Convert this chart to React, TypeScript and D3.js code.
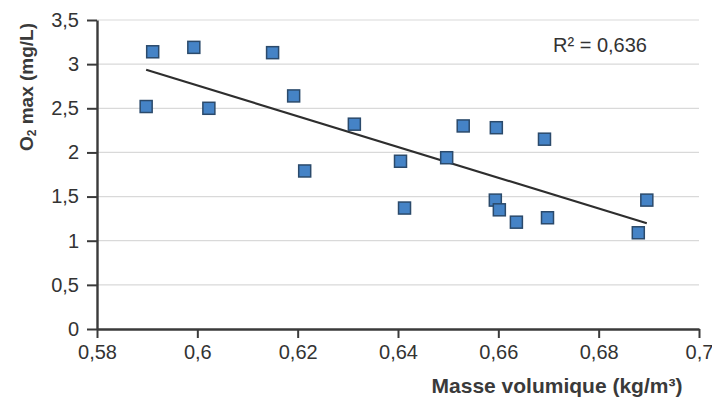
import React, { useEffect, useRef } from "react";
import * as d3 from "d3";

// values
const density = [
	0.5898, 0.5911, 0.5993, 0.6023, 0.615, 0.6192, 0.6214, 0.6313, 0.6405, 0.6413,
	0.6497, 0.653, 0.6596, 0.6692, 0.6594, 0.6602, 0.6636, 0.6698, 0.6879, 0.6896,
];
const o2max = [
	2.52, 3.14, 3.19, 2.5, 3.13, 2.64, 1.79, 2.32, 1.9, 1.37,
	1.94, 2.3, 2.28, 2.15, 1.46, 1.35, 1.21, 1.26, 1.09, 1.46,
];
const xTicks = [0.58, 0.6, 0.62, 0.64, 0.66, 0.68, 0.7];
const yTicks = [0, 0.5, 1, 1.5, 2, 2.5, 3, 3.5];
const r2Label = "R² = 0,636";

const fmt = (v: number) => String(v).replace(".", ",");

export default function App() {
	const svgRef = useRef<SVGSVGElement | null>(null);

	useEffect(() => {
		if (!svgRef.current) return;
		const width = 712;
		const height = 405;
		const margin = { top: 20, right: 13, bottom: 76, left: 97 };
		const font = "'Liberation Sans', Arial, sans-serif";

		const x = d3.scaleLinear().domain([0.58, 0.7]).range([margin.left, width - margin.right]);
		const y = d3.scaleLinear().domain([0, 3.5]).range([height - margin.bottom, margin.top]);

		const svg = d3.select(svgRef.current);
		svg.selectAll("*").remove();

		// grid
		svg.append("g")
			.selectAll("line")
			.data(yTicks.filter((t) => t > 0))
			.enter()
			.append("line")
			.attr("x1", margin.left)
			.attr("x2", width - margin.right)
			.attr("y1", (d) => y(d))
			.attr("y2", (d) => y(d))
			.attr("stroke", "#d9d9d9")
			.attr("stroke-width", 1.2);

		// axes
		const xAxis = svg
			.append("g")
			.attr("transform", `translate(0,${y(0)})`)
			.call(d3.axisBottom(x).tickValues(xTicks).tickSize(9).tickSizeOuter(0).tickFormat((d) => fmt(+d)));
		const yAxis = svg
			.append("g")
			.attr("transform", `translate(${margin.left},0)`)
			.call(d3.axisLeft(y).tickValues(yTicks).tickSize(10).tickSizeOuter(0).tickFormat((d) => fmt(+d)));

		[xAxis, yAxis].forEach((a) => {
			a.select(".domain").attr("stroke", "#3a3a3a").attr("stroke-width", 2.4);
			a.selectAll(".tick line").attr("stroke", "#3a3a3a").attr("stroke-width", 2);
			a.selectAll(".tick text").attr("fill", "#333").attr("font-size", 20).attr("font-family", font);
		});
		xAxis.selectAll(".tick text").attr("y", 14).attr("dy", "0.8em");
		yAxis.selectAll(".tick text").attr("x", -18);

		// trend line (least squares)
		const mx = d3.mean(density)!;
		const my = d3.mean(o2max)!;
		let sxy = 0;
		let sxx = 0;
		density.forEach((d, i) => {
			sxy += (d - mx) * (o2max[i] - my);
			sxx += (d - mx) * (d - mx);
		});
		const slope = sxy / sxx;
		const intercept = my - slope * mx;
		const [x0, x1] = d3.extent(density) as [number, number];
		svg.append("line")
			.attr("x1", x(x0))
			.attr("y1", y(intercept + slope * x0))
			.attr("x2", x(x1))
			.attr("y2", y(intercept + slope * x1))
			.attr("stroke", "#2e2e2e")
			.attr("stroke-width", 2.2);

		// points
		const size = 12;
		svg.append("g")
			.selectAll("rect")
			.data(density.map((d, i) => ({ x: d, y: o2max[i] })))
			.enter()
			.append("rect")
			.attr("x", (d) => x(d.x) - size / 2)
			.attr("y", (d) => y(d.y) - size / 2)
			.attr("width", size)
			.attr("height", size)
			.attr("fill", "#4583c6")
			.attr("stroke", "#2b4a6b")
			.attr("stroke-width", 1.5);

		// R2 label
		svg.append("text")
			.attr("x", 553)
			.attr("y", 52)
			.attr("font-family", font)
			.attr("font-size", 20)
			.attr("fill", "#333")
			.text(r2Label);

		// axis titles
		svg.append("text")
			.attr("transform", `translate(33,87) rotate(-90)`)
			.attr("text-anchor", "middle")
			.attr("font-family", font)
			.attr("font-weight", "bold")
			.attr("font-size", 19)
			.attr("fill", "#3a3a3a")
			.html("O<tspan font-size='12' dy='3'>2</tspan><tspan dy='-3'> max (mg/L)</tspan>");

		svg.append("text")
			.attr("x", 557)
			.attr("y", 393)
			.attr("text-anchor", "middle")
			.attr("font-family", font)
			.attr("font-weight", "bold")
			.attr("font-size", 21)
			.attr("fill", "#3a3a3a")
			.text("Masse volumique (kg/m³)");
	}, []);

	return (
		<svg
			ref={svgRef}
			width={712}
			height={405}
			style={{ position: "absolute", left: 0, top: 0, background: "#fff" }}
		/>
	);
}
